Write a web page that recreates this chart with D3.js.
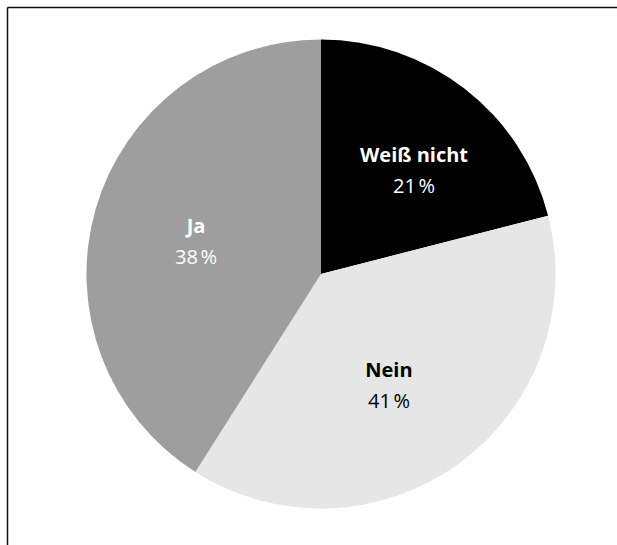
<!DOCTYPE html>
<html>
<head>
<meta charset="utf-8">
<script src="https://cdn.jsdelivr.net/npm/d3@7"></script>
<style>
  html, body { margin: 0; padding: 0; background: #fff; }
  svg { display: block; }
</style>
</head>
<body>
<svg id="chart" width="617" height="545"></svg>
<script>
// Data (slice sizes as drawn, clockwise from 12 o'clock)
const categories = ["Weiß nicht", "Nein", "Ja"];
const sliceValues = [21, 38, 41];
const labelPercents = ["21\u202F%", "41\u202F%", "38\u202F%"];
const colors = ["#000000", "#e5e6e5", "#9d9e9d"];
const textColors = ["#ffffff", "#000000", "#ffffff"];
const labelRadiusFactor = [0.595, 0.555, 0.551];
const labelAngleShift = [0.07, 0.079, -0.024];

const svg = d3.select("#chart");
const W = 617, H = 545;

// frame lines (top & left)
svg.append("line").attr("x1", 7.5).attr("y1", 7.5).attr("x2", W).attr("y2", 7.5)
  .attr("stroke", "#111").attr("stroke-width", 1.5);
svg.append("line").attr("x1", 7.5).attr("y1", 7.5).attr("x2", 7.5).attr("y2", H)
  .attr("stroke", "#111").attr("stroke-width", 1.5);

const cx = 321, cy = 274, r = 234.5;
const g = svg.append("g").attr("transform", `translate(${cx},${cy})`);

const data = categories.map((c, i) => ({ cat: c, value: sliceValues[i], i }));
const pie = d3.pie().value(d => d.value).sort(null);
const arc = d3.arc().innerRadius(0).outerRadius(r);
const arcs = pie(data);

g.selectAll("path.slice").data(arcs).enter().append("path")
  .attr("class", "slice")
  .attr("d", arc)
  .attr("fill", d => colors[d.data.i]);

const labels = g.selectAll("g.lbl").data(arcs).enter().append("g")
  .attr("class", "lbl")
  .attr("transform", d => {
    const i = d.data.i;
    const a = (d.startAngle + d.endAngle) / 2 + labelAngleShift[i];
    const rr = r * labelRadiusFactor[i];
    return `translate(${rr * Math.sin(a)},${-rr * Math.cos(a)})`;
  });

labels.append("text")
  .attr("text-anchor", "middle")
  .attr("y", -8)
  .attr("font-family", "'Open Sans', 'Noto Sans', sans-serif")
  .attr("font-weight", "bold")
  .attr("font-size", 20)
  .attr("fill", d => textColors[d.data.i])
  .text(d => d.data.cat);

labels.append("text")
  .attr("text-anchor", "middle")
  .attr("y", 23)
  .attr("font-family", "'Open Sans', 'Noto Sans', sans-serif")
  .attr("font-size", 20)
  .attr("fill", d => textColors[d.data.i])
  .text(d => labelPercents[d.data.i]);
</script>
</body>
</html>
